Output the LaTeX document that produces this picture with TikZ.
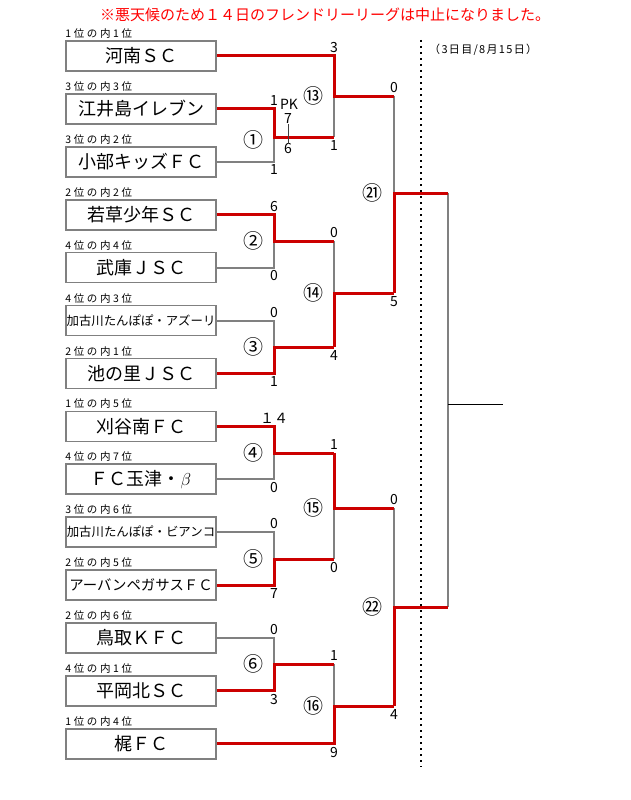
\documentclass[tikz,border=0pt]{standalone}
\usepackage{fontspec}
\setmainfont{Noto Sans CJK JP}
\newfontfamily\rankfont{Noto Sans CJK JP}[LetterSpace=25]
\newfontfamily\datefont{Noto Sans CJK JP}[LetterSpace=12]
\usepackage{tikz}
\usetikzlibrary{positioning}
\definecolor{WinRed}{HTML}{CC0000}
\definecolor{NoticeRed}{HTML}{FF0000}
\definecolor{LineGray}{HTML}{808080}

\begin{document}
\begin{tikzpicture}[
  x=1pt,
  y=-1pt,
  team/.style={draw=LineGray, line width=1.6pt, minimum width=150pt, minimum height=30pt, inner sep=0pt},
  rank/.style={anchor=south west, inner xsep=0pt, inner ysep=1.5pt, font=\rankfont\fontsize{10.5}{10.5}\selectfont},
  lose/.style={draw=LineGray, line width=2pt},
  win/.style={draw=WinRed, line width=3pt},
  score/.style={inner sep=3pt, font=\fontsize{14}{14}\selectfont},
  matchno/.style={inner sep=0pt, font=\fontsize{20}{20}\selectfont}
]
\useasboundingbox (0,0) rectangle (630,800);

\node[text=NoticeRed, font=\fontsize{15}{15}\selectfont] (notice) at (325,15) {※悪天候のため１４日のフレンドリーリーグは中止になりました。};
\node[anchor=west, inner sep=0pt, font=\datefont\fontsize{11}{11}\selectfont] (day) at (429,50) {（3日目/8月15日）};

\foreach \i/\rk/\nm/\fs in {
  1/{1位の内1位}/{河南ＳＣ}/18,
  2/{3位の内3位}/{江井島イレブン}/18,
  3/{3位の内2位}/{小部キッズＦＣ}/18,
  4/{2位の内2位}/{若草少年ＳＣ}/18,
  5/{4位の内4位}/{武庫ＪＳＣ}/18,
  6/{4位の内3位}/{加古川たんぽぽ・アズーリ}/12.4,
  7/{2位の内1位}/{池の里ＪＳＣ}/18,
  8/{1位の内5位}/{刈谷南ＦＣ}/18,
  9/{4位の内7位}/{ＦＣ玉津・$\beta$}/18,
  10/{3位の内6位}/{加古川たんぽぽ・ビアンコ}/12.4,
  11/{2位の内5位}/{アーバンペガサスＦＣ}/14.4,
  12/{2位の内6位}/{鳥取ＫＦＣ}/18,
  13/{4位の内1位}/{平岡北ＳＣ}/18,
  14/{1位の内4位}/{梶ＦＣ}/18
} {
  \node[team, font=\fontsize{\fs}{\fs}\selectfont] (t\i) at (141,{56+52.9*(\i-1)}) {\nm};
  \node[rank] at (t\i.north west) {\rk};
}

\coordinate (m1) at (274,137);
\coordinate (m2) at (274,241);
\coordinate (m3) at (274,347);
\coordinate (m4) at (274,453);
\coordinate (m5) at (274,559);
\coordinate (m6) at (274,664);
\coordinate (m13) at (334,96);
\coordinate (m14) at (334,293);
\coordinate (m15) at (334,508);
\coordinate (m16) at (334,706);
\coordinate (m21) at (394,193);
\coordinate (m22) at (394,607);
\coordinate (fin) at (448,404);
\coordinate (champ) at (503,404);
\coordinate (sepTop) at (421,40);
\coordinate (sepBot) at (421,767);

\draw[line width=2pt, dash pattern=on 2pt off 4pt] (sepTop) -- (sepBot);

% losing sides
\draw[lose] (t3.east) -| (m1);
\draw[lose] (t5.east) -| (m2);
\draw[lose] (t6.east) -| (m3);
\draw[lose] (t9.east) -| (m4);
\draw[lose] (t10.east) -| (m5);
\draw[lose] (t12.east) -| (m6);
\draw[lose] (m1 -| m13) -- (m13);
\draw[lose] (m2 -| m14) -- (m14);
\draw[lose] (m5 -| m15) -- (m15);
\draw[lose] (m6 -| m16) -- (m16);
\draw[lose] (m13 -| m21) -- (m21);
\draw[lose] (m15 -| m22) -- (m22);
\draw[lose] (m21 -| fin) -- (m22 -| fin);
\draw[line width=1pt] (fin) -- (champ);

% winning sides
\draw[win] (t2.east) -| (m1) -- (m1 -| m13);
\draw[win] (t4.east) -| (m2) -- (m2 -| m14);
\draw[win] (t7.east) -| (m3) -- (m3 -| m14);
\draw[win] (t8.east) -| (m4) -- (m4 -| m15);
\draw[win] (t11.east) -| (m5) -- (m5 -| m15);
\draw[win] (t13.east) -| (m6) -- (m6 -| m16);
\draw[win] (t1.east) -| (m13) -- (m13 -| m21);
\draw[win] (m3 -| m14) -- (m14) -- (m14 -| m21);
\draw[win] (m4 -| m15) -- (m15) -- (m15 -| m22);
\draw[win] (t14.east) -| (m16) -- (m16 -| m22);
\draw[win] (m14 -| m21) -- (m21) -- (m21 -| fin);
\draw[win] (m16 -| m22) -- (m22) -- (m22 -| fin);

% scores
\node[score, above] at (t2.east -| m1) {1};
\node[score, below] at (t3.east -| m1) {1};
\node[score, inner sep=0pt] (pk) at (289,104) {PK};
\node[score, inner sep=0pt] (pkA) at (288,119) {7};
\node[score, inner sep=0pt] (pkB) at (288,149) {6};
\draw[line width=1pt, black!75] (pkA) -- (pkB);
\node[score, above] at (t4.east -| m2) {6};
\node[score, below] at (t5.east -| m2) {0};
\node[score, above] at (t6.east -| m3) {0};
\node[score, below] at (t7.east -| m3) {1};
\node[score, above] at (t8.east -| m4) {１４};
\node[score, below] at (t9.east -| m4) {0};
\node[score, above] at (t10.east -| m5) {0};
\node[score, below] at (t11.east -| m5) {7};
\node[score, above] at (t12.east -| m6) {0};
\node[score, below] at (t13.east -| m6) {3};
\node[score, above] at (t1.east -| m13) {3};
\node[score, below] at (m1 -| m13) {1};
\node[score, above] at (m2 -| m14) {0};
\node[score, below] at (m3 -| m14) {4};
\node[score, above] at (m4 -| m15) {1};
\node[score, below] at (m5 -| m15) {0};
\node[score, above] at (m6 -| m16) {1};
\node[score, below] at (t14.east -| m16) {9};
\node[score, above] at (m13 -| m21) {0};
\node[score, below] at (m14 -| m21) {5};
\node[score, above] at (m15 -| m22) {0};
\node[score, below] at (m16 -| m22) {4};

% match numbers
\node[matchno, left=10pt of m1, yshift=-3pt] {①};
\node[matchno, left=10pt of m2] {②};
\node[matchno, left=10pt of m3] {③};
\node[matchno, left=10pt of m4] {④};
\node[matchno, left=10pt of m5] {⑤};
\node[matchno, left=10pt of m6] {⑥};
\node[matchno, left=10pt of m13] {⑬};
\node[matchno, left=10pt of m14] {⑭};
\node[matchno, left=10pt of m15] {⑮};
\node[matchno, left=10pt of m16] {⑯};
\node[matchno, left=11pt of m21] {㉑};
\node[matchno, left=11pt of m22] {㉒};
\end{tikzpicture}
\end{document}
